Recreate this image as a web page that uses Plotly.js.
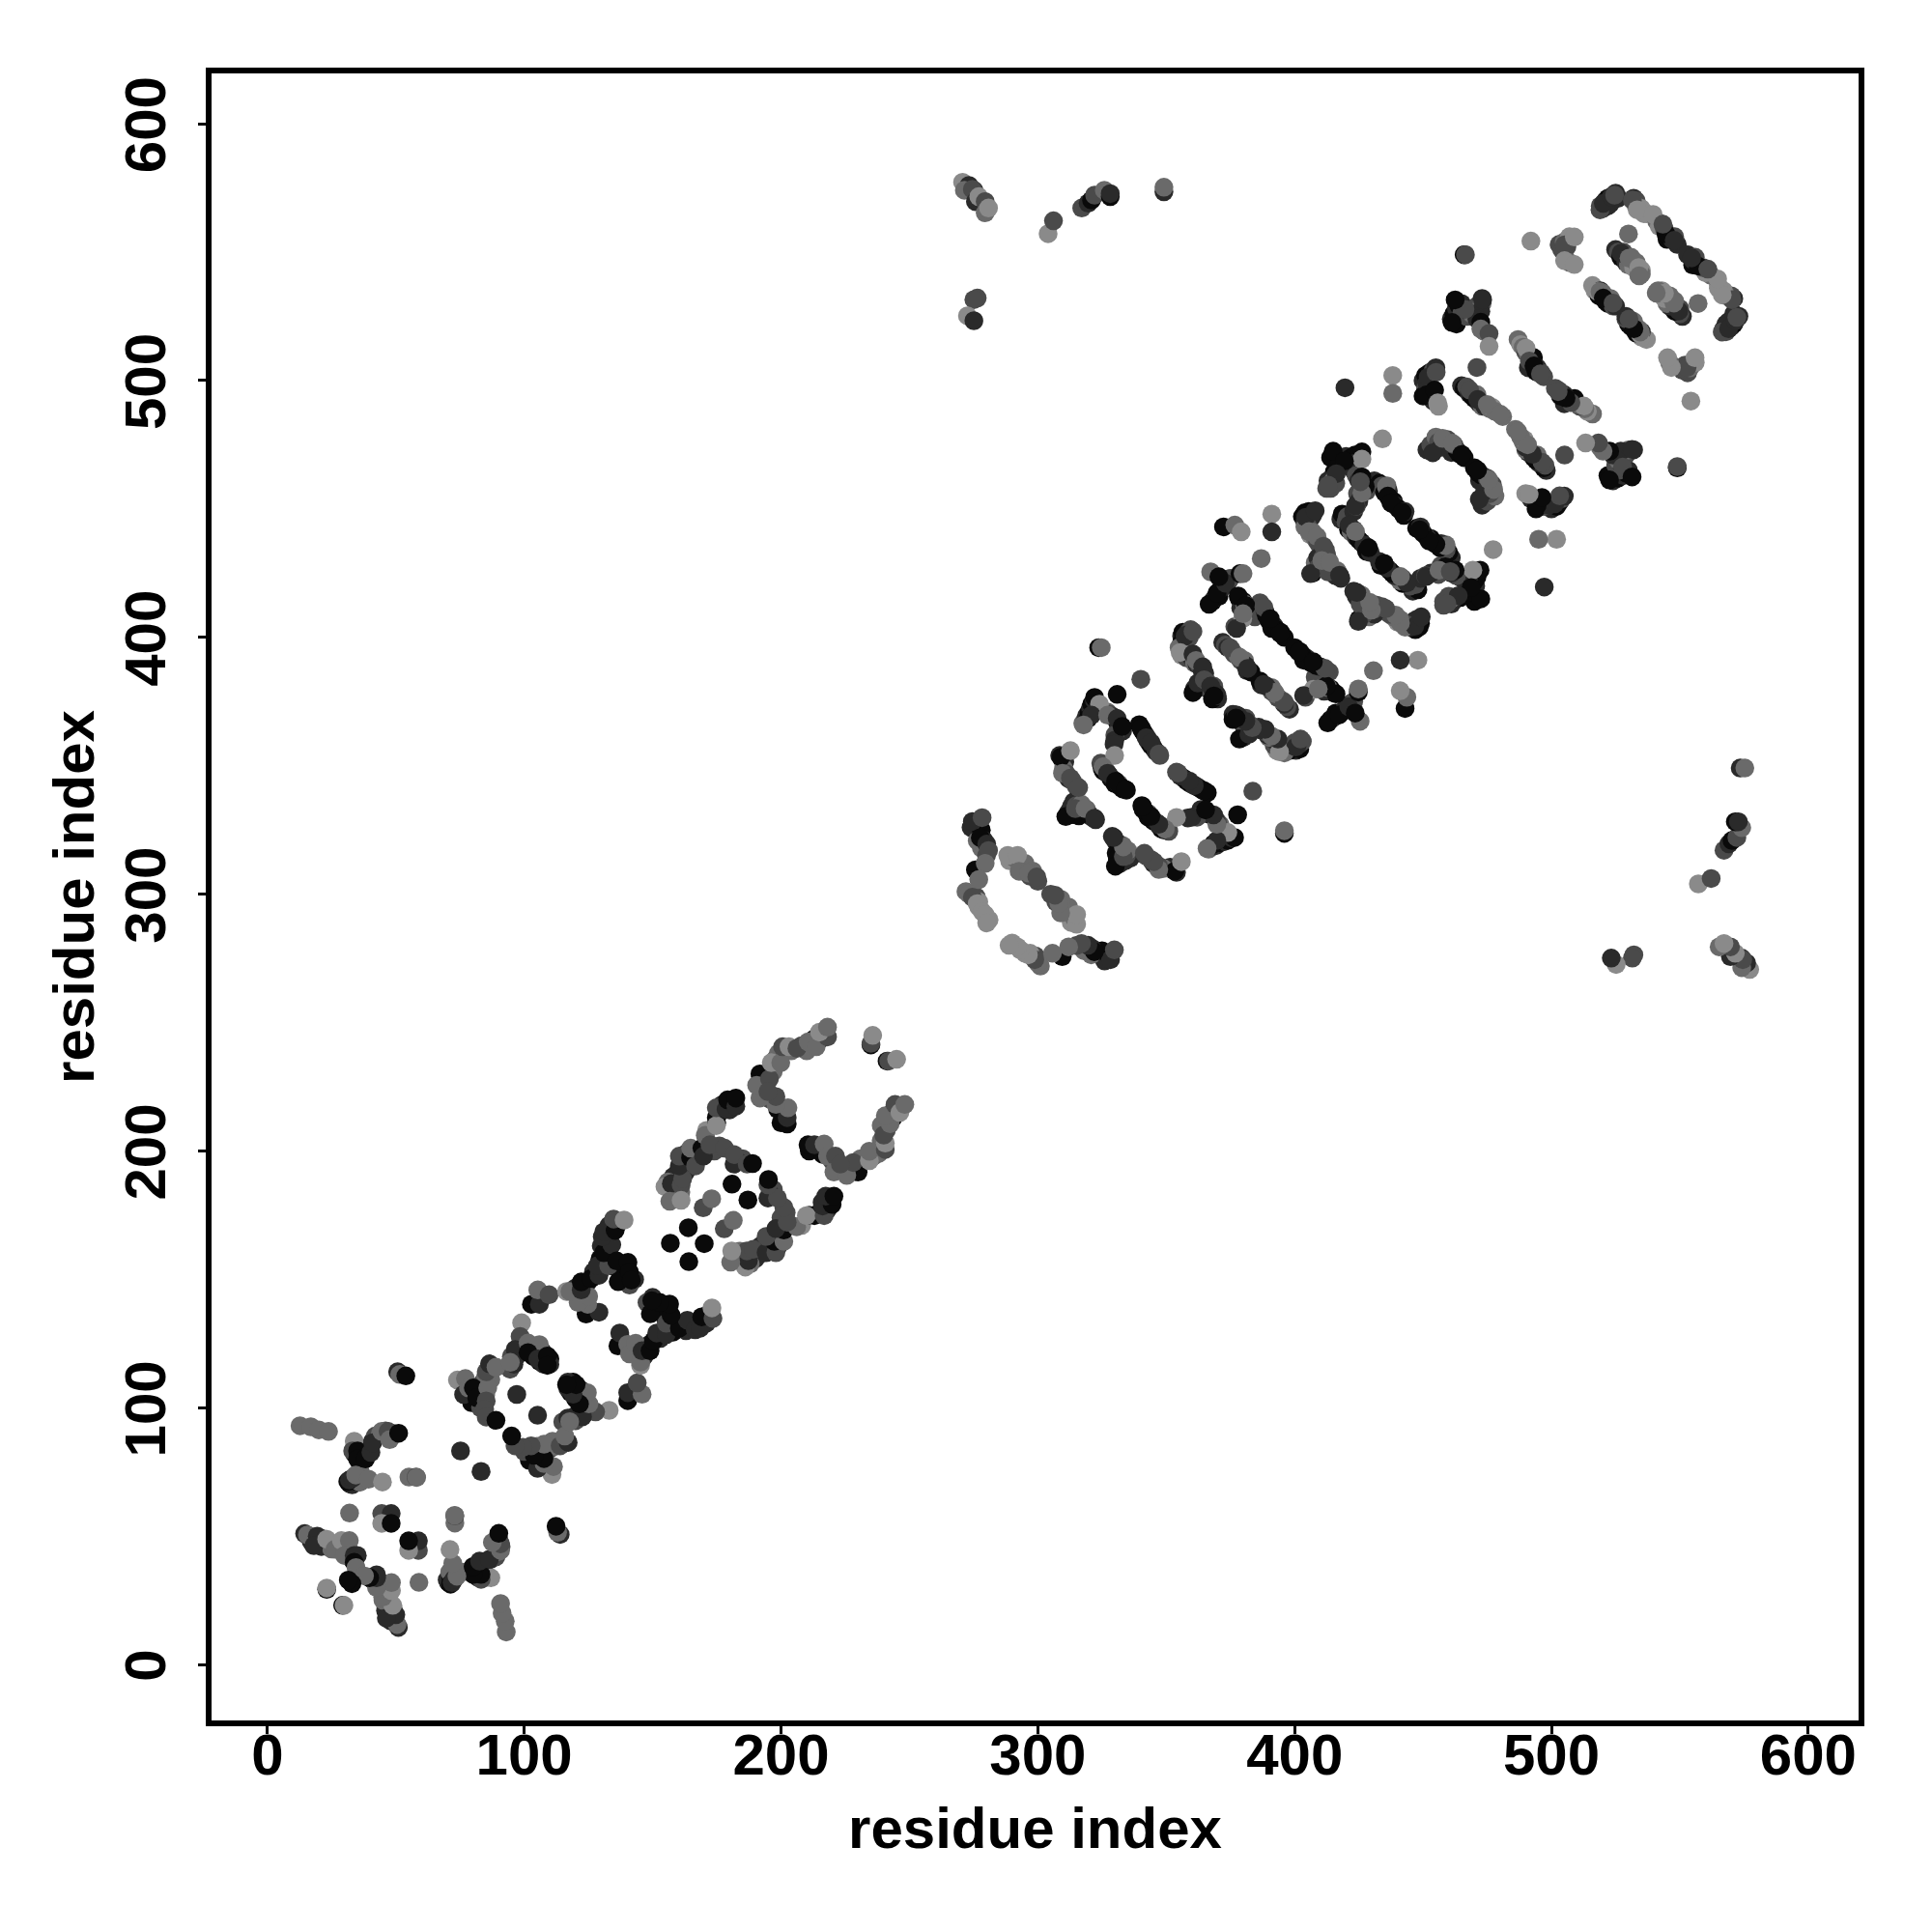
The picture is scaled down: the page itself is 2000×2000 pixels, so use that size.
<!DOCTYPE html>
<html>
<head>
<meta charset="utf-8">
<script src="https://cdn.plot.ly/plotly-3.0.1.min.js"></script>
<style>html,body{margin:0;padding:0;background:#fff}#chart{width:2000px;height:2000px}</style>
</head>
<body>
<div id="chart"></div>
<script>
// Each contact is [residue i, residue j, weight class]; the map is symmetric so each is shown at (i,j) and (j,i).
const strandsLow = [[32,70.5,0],[33,70,1],[33.5,71.5,0],[34,72,0],[36,71,3],[35,74,3],[36,76,3],[34,82,0],[36,81,0],[37,82,0],[38,84,1],[39,84,1],[40,85,1],[41,87,1],[42,89,2],[44,90,3],[46,91,2],[48,89,0],[49,90,1],[34,85,1],
 [14.5,51,1],[17,48,1],[19,47,2],[21,46,1],[25,45,3],[27,47,4],[30,45,1],[30,47,0],[31,45,0],[32,44,1],[33,41,1],[22,49,4],[24.5,47,3],
 [78,109,2],[79,106,1],[80,104.5,1],[79.5,102,0],[82,106,0],[83,103,1],[83,100,2],[85,105,3],[86,110,3],[87,111,3],[84,110,2],[85,112,3],[84.5,101,3],
 [95,120,2],[94.5,115,2],[96,117,1],[97,120,1],[98,124,2],[99,122,1],[100,123,3],[103,122,1],[103.5,120,0],[105,122,3],[107,122,1],[106,118,0],[107.5,117,1],[109,118,0],[110,119,0],[110,117,1],
 [119,146,2],[120.5,147,1],[123,147.5,0],[124.5,148.5,1],[127,153,1],[129.5,158,0],[130,163,1],[132,165,1],[133,167,0],[133,171,1],[136,171,1],[130.5,157,0],[133,158,1],[135,155,0],[138,154,0],[138.5,156,0],[139,151,0],[138,152,0],[143,150,1],[140,150,0],[124.5,139,2],[126,138,1]];
const strandsMid = [[163,199,1],[166,199,0],[168,199.5,1],[163,192,1],[162,193,0],[158,190,1],[159,189,0],[160,192,1],[156,188,3],[171,204,2],[171,208,4],[175,211,1],[176,215,0],[177,218,1],[176,216,1],[181,218,0],[180,216,1],[185,197,2],[183,196,1],[176,202,2],[174,200,2],[161,184,3],
 [200,217,3],[201,214,1],[200,211,0],[192,226,3],[193,222,3],[196,220,2],[193,227,2],[192,229,1],[194,230,3],[197,231,3],[198,236,2],[199,238,3],[204,239,3],[208,241,2],[210,239,3],[216,244,0],
 [274,326,1],[276,328,2],[278,325,0],[279,321,1],[278,318,3],[276,299,2],[277,297,4],[272,301,3],[289,313,4],[291,314,3],[294,309,3],[295,312,3],[297,307,2],[298,309,3],[300,305,2],[277,295,4],[281,290,4],[280,315,2]];
const strandsK = [[317.5,366.5,3],[318.5,368,2],[319,369.5,1],[320,371,0],[320.5,372.5,1],[321,374,0],[322,375.5,1],
 [327,371,3],[328,370,2],[329.5,369,1],[331,367,0],[331.5,365,1],[333,363.5,1],[330,362,2],[330,360,1],
 [339.5,366,0],[340.5,364,0],[341.5,362.5,0],[342.5,361,1],[343,359.5,1],[344,358,0],[345,357,0],[346,355.5,1],[347.5,354,2],
 [308.5,354,1],[309.5,352.5,0],[310.5,351.5,1],[310,349,3],[311,347,2],[312,345,1],[313.5,344,2],[315,342,2],
 [312,332,1],[313,334,1],[314,336,1],[313.5,331,1],[315,334.5,2],[316.5,332,3],[317,335,3],[318.5,331.5,2],[319,333,3],[320,331,2],[321,330,1],[316,330.5,0],[314,331,0],[322.5,329,1],
 [324.5,351,2],[325,349,1],[325.5,348,0],[326,349.5,3],[327,347,1],[328,346,2],[328.5,345,0],[329.5,344.5,1],[330,343,0],[331.5,343,3],[332,342,0],[333,341,0],[334.5,340.5,0]];
const strandsL = [[356,400.5,1],[356.5,402,0],[358.5,402,1],[359.5,403,2],[356,398,0],[358,401,1],[359,400,2],[355,396,3],[356,393,4],[358,392,2],[360,392,1],[361,390,3],[362,389.5,1],[363,389,2],[364,387,1],[365,386,1],
 [361,380,1],[363,381,0],[363.5,383,1],[365,381.5,0],[366,382.5,2],[366,380,1],[367.5,379,2],[368.5,381,2],[369.5,378,1],[370,376,1],[368,376,0],
 [372,398,1],[373,397,2],[374,396,1],[375.5,395,3],[376.5,393.5,2],[378,392.5,3],[379,391,2],[380.5,391,3],[381,389,1],[381.5,387,1],[383,386.5,0],
 [368,414,0],[369,415.5,1],[370.5,416,0],[371,418.5,0],[372,419.5,1],[374,421.5,1],[375,423,2],
 [378.5,415,0],[380,414,0],[379,411.5,1],[380.5,413,3],[382,411,1],[383,409.5,1],[384.5,408,2],
 [386.5,413.5,2],[387.5,412,2],[388.5,410,1],[389,408.5,0],[390,406.5,0],[391,405,0],[392,404.5,1],[393,403,0],[394.5,402,0],[396,400,0]];
const strandsN = [[403,447,0],[404,448.5,0],[405.5,449,0],[406,446,1],[407,447.5,1],[404,445,1],[405,443.5,2],
 [404,443,3],[406,440,4],[407,441,3],[408,438.5,3],[409,437,2],[410,435.5,2],[412,434,2],[412.5,432,2],
 [407,425,0],[408,429,3],[409,431,1],[411,431,2],[409,427,2],[411,427.5,1],[412,429,4],[414,427,3],[415,426,2],[416,424,1],[418,423,1],[416.5,426,3],[413,425.5,2],
 [418,446,1],[418.5,448,0],[420,445,2],[420.5,447,2],[421,442,0],[422,441,3],[423,442,2],[424,439,1],[425,438,0],[426,437,0],[427,436,1],[428,433.5,0],[429.5,433,1],
 [414,470,0],[414.5,462,1],[415.5,464.5,0],[416.5,466,0],[417.5,467.5,0],[413,461,1],[412.5,458,2],[414,458,2],[415,461,3],[416,460,2],[420,470.5,1],[422,470,0],[423.5,471,0],[425,470.5,0],[424,468,1],
 [423,465,1],[424,463,2],[425,461,1],[426,459,3],[424.5,456,2],[425,453,1],[423,449,1],[424,451,2],[428,460,0],[428,457,2],
 [431,461,1],[433,460,0],[434,459,2],[436,459,3],[435,456.5,0],[436.5,457,1],[437,454,0],[438.5,453,0],[439,451.5,1],[440.5,450,0],[442.5,447.5,0],[443,449,1]];
const strandsO = [[450,500,1],[451,502,0],[452.5,503,0],[454,504,2],[451,497,2],[452,497,0],[453,495,0],[454,492,1],[450,494,0],[456,490,4],[451.5,499,1],[455,505,1],
 [451.5,473,1],[453,475,2],[455,478,3],[456,476,2],[458,476,3],[459.5,477,2],[460,474,2],[461,472,1],[463,473,0],[464,471.5,0],[466,470,0],[462,475,2],[457,474,1],
 [465,498,1],[466,497,0],[467,497.5,2],[468,495,1],[469,494,0],[470,493,0],[471,494.5,3],[472,491,1],[473,490,3],[474,490,1],[476,489,3],[477,489.5,4],[478,488,3],[481,486,3],
 [461,524,1],[462,526,0],[463,528,1],[464,529,0],[465,530,1],[463,522,0],[465,526,2],[467,525,2],[468,527,0],[469,526,3],[471,529,2],[473,532,1],[473,530,3],[472.5,527,1],[471,524,1],[474,519,3]];
const strandsP = [[487,516,3],[488,514,4],[489,513,3],[490,511,2],[491,510,3],[491,505,1],[492,508,3],[493,507,1],[494,503.5,0],[493,509,0],[494.5,505,1],[496,503,2],[497,501.5,2],
 [519,568,2],[520,567,1],[521,570,1],[522,568,1],[522,571,0],[523,569,1],[525,573,1],[526,571,1],
 [532,571,1],[533,570,2],[533,568,3],[535,567,4],[536,565,4],[537,565,4],[541,562,3],[542,560,4],[544,559,2],[545,555,0],[546,556,0],[547,555,1],[549,553,1],[548,556,2],
 [525,551,1],[526,550,2],[527,548,0],[528,550,2],[529,546,1],[530,545,3],[531,548,3],[532,544,4],[533,546,3],[534,541,3],[535,543,4],[535,541.5,3],
 [516,537,4],[517,535,4],[518.5,533,0],[519,535,1],[520,534,3],[521,531,0],[522,530,0],[523,532,3],[524,529,2],[525,529,1],
 [503,553,2],[504,551,2],[505,554,3],[506,552,2],[507,556,4],[507,546,3]];
const contactsA = [[12.7,93,3],[16.9,92.6,3],[20,91.4,3],[23.8,90.8,3],
 [33.8,87,4],[33.2,83.2,2],[35.1,83.2,0],[35.1,80.1,0],[38.2,80.1,0],[40.3,82.6,1],[41,86.4,1],
 [44.5,90.8,3],[47,90.8,2],[47.6,87.6,3],[51.1,90.1,0],[31.3,71.3,0],[31.9,71.9,1],[33.2,72.6,1],
 [34.4,73.8,3],[39.4,72.2,3],[44.8,71.1,4],[55.1,73,3],[57.9,73,2]];
const contactsB = [[15.6,50.5,3],[19.4,50,1],[18.1,46.3,1],[23.1,48.8,4],[26.3,44.9,3],[28.8,48.3,4],[31.9,48.3,3],
 [30,42.5,3],[33.8,42.5,1],[35,42.5,1],[33.8,39.8,0],[34.5,37.8,3],[32.9,31.5,0]];
const contactsC = [[23.1,29.3,0],[23.1,29.8,4],[32.0,59,3],[44.5,58.8,2],[48.2,58.8,1],[44.5,55,4],[48.2,55,0],
 [50.7,114,1],[51.5,113,3],[53.9,112.4,0],[75.2,83.2,1],[97.1,105.2,1]];
const contactsD = [[72.9,58.1,3],[74,110.8,4],[77.1,111.4,3],[76.4,105.2,1],[78.3,107.7,3],[80.2,107.7,0],[81.5,103.9,0],
 [85.8,107.7,3],[85.2,114,2],[86.5,117.1,1],[89,115.8,3],[85.2,102.7,2],[84.6,99.5,2],[85.2,96.4,2],[89,95.1,0]];
const contactsE = [[99,133.1,4],[98.4,127.8,2],[96.5,122.7,1],[94.6,117.7,3],[101.5,125.2,3],[105.9,124.6,3],
 [101.5,121.5,0],[105.3,119,1],[109,120.2,0],[109,116.5,0],[102.8,140.3,0],[105.9,140.3,1],[105.3,145.9,3],[109.7,144,2]];
const contactsF = [[124.1,136.5,0],[129.1,137.2,1],[124.7,140.3,3],[121,141,3],[125.1,143.4,3],[116.5,145.3,4],[117.8,145.3,3],
 [122.2,145.9,1],[122.2,149,0],[126,150.3,0],[129.1,151.6,1],[128.5,155.3,1],[132.9,155.3,2],[131,160.4,0],
 [134.1,163.5,1],[130.4,166.6,1],[131,168.5,1],[135.4,169.1,0],[134.8,173.5,2],[138.9,173.1,4],[136,157.2,0],
 [140.4,156.6,0],[141,147.8,2],[136.6,149.1,0],[141,152.8,0],[141.7,149.7,0]];
const contactsG = [[163.9,170.1,0],[156.9,164.1,0],[169.7,177.9,2],[173,181.4,3],[180.9,187.1,0],
 [154.8,186.1,4],[157.3,187.3,1],[161.1,186.7,2],[156.7,180.4,3],[161.1,180.8,4],[161.7,189.2,2],[160.4,194.2,1],
 [160.4,198,2],[164.8,197.4,0],[164.8,201.1,3],[166.7,194.2,2],[169.2,201.1,0],[169.8,198,1],[170.5,206.1,3],
 [172.3,202.4,2],[174.8,213,0],[174.8,209.9,4],[174.8,216.8,2],[178.6,216.2,1],[179.2,219.9,0],[182.4,217.4,1],
 [182.4,220.6,0],[178,201.1,2],[181.7,194.9,1],[181.7,198.6,2],[186.8,194.9,2],[188.9,195.1,0]];
const contactsH = [[198.7,216.2,0],[202.4,210.5,0],[202.4,213,1],[202.7,216.8,3],[198,218.1,3],[198,221.2,2],[191.8,220.6,3],
 [191.8,230,0],[190.5,225.6,3],[195.5,228.1,2],[194.9,223.1,2],[196.2,234.4,4],[199.9,234.4,3],[200.6,240.6,2],
 [203.1,240.6,4],[206.2,240,2],[213.1,243.8,0],[210.6,242.5,3],[213.7,240.6,3],[218.1,244.4,2],[215,246.3,4],[218.1,248.2,3],
 [235,241.3,0],[235,241.9,2],[235.7,245,4]];
const contactsI = [[270.7,577.2,4],[275.1,574.1,1],[273.2,576,1],[271.4,574.1,3],[274.5,574.5,2],[275.7,569.7,1],[277,571.6,4],
 [279.5,569.7,2],[279.5,565.3,3],[280.8,567.2,4],[304,557.2,4],[306.1,562.2,2],[317.1,567.2,2],[319.6,569.1,1],[320.9,570.3,0],
 [322.1,572.2,2],[325.9,574.1,3],[328.2,571.6,0],[328.2,572.8,1],[349.1,573.5,1],[349.1,575.3,3],
 [276.4,532.1,2],[275.1,531.5,2],[272.6,525.2,4],[275.1,523.3,1]];
const contactsJ = [[274.5,328.3,1],[278.3,329.8,2],[276.4,320.8,3],[277.6,322,0],[280.1,319.5,1],[280.8,317,2],[275.7,309.5,0],
 [279.5,312,3],[277,305.7,3],[273.2,300,3],[274.5,298.8,2],[276.4,296.3,4],[278.3,293.2,4],[279.5,292,4],[280.1,288.8,4],
 [288.3,315.1,4],[292.1,315.1,4],[292.7,308.9,3],[296.4,308.2,3],[299.6,306.7,2]];
const contactsK = [[323.7,396,0],[324.7,396,3],[340.1,383.7,2],[322.1,376.6,0],[330.9,377.8,0],[324,374,4],[319.6,368.4,0],
 [320.9,369.7,1],[317.8,365.9,3],[327.2,369.7,3],[330.9,368.4,1],[332.8,365.3,0],[329.7,358.4,1],[329.9,354,4],
 [340.3,364.7,0],[342.2,360.9,1],[344.1,359,1],[347.2,354.6,2],[309,353.4,0],[312.7,355.9,4],[309.6,347.1,3],[312.7,345.2,2],
 [315.9,341.5,2],[310.9,330.2,0],[314.6,333.3,2],[318.4,333.3,3],[322.1,329.6,1],[325.3,349.6,3],[327.2,347.1,1],
 [330.3,344,0],[334.1,340.8,0]];
const contactsL = [[357.3,400.4,1],[360.4,402.3,2],[355.4,394.1,4],[360.4,393.5,1],[361.6,391,3],[364.2,388.5,1],[360.4,378.5,0],
 [362.3,382.2,1],[364.8,383.5,2],[367.3,381,1],[369.8,377.2,1],[368.6,377.2,0],[374.8,396,2],[378.6,392.2,3],[381.7,387.9,1],
 [376.7,404.2,2],[379.8,407.3,4],[391.1,403.5,0],[394.3,401.6,0],[377.4,403.5,1]];
const contactsM = [[366.7,412.9,0],[369.8,417.3,0],[373,421.1,1],[367.3,425.5,3],[370.5,423.6,0],[378.7,424.8,0],[379.9,424.8,3],
 [378,416.1,0],[381.1,412.3,0],[379.9,409.2,3],[388,411.7,2],[390.5,407.3,0],[387,430.7,3],[372.3,443,0],[376.7,443.7,3],
 [379.2,441.1,4],[391.1,448,4],[391.1,441.1,1]];
const contactsN = [[404.3,446.8,1],[408,449.3,1],[405.6,441.2,3],[408.7,439.3,3],[411.2,435.5,2],[406.2,424.8,1],[410.6,429.9,3],
 [413.7,429.2,3],[417.5,424.2,1],[421.2,443.7,1],[423.7,441.2,3],[428.8,434.9,0],[415,472.5,0],[426.2,472.2,0],[426.2,469.4,4],
 [419.4,468.7,0],[416.2,463.7,1],[413.1,459.3,2],[423.7,451.2,1],[426.2,462.5,0],[427.5,458.7,0],[426.2,456.2,3],[425.6,460.6,2],
 [435.7,458.7,3],[436.3,455,0],[437.5,452.4,0],[441.9,448.7,0],[434.2,477.3,4],[419.6,497.2,1],[438.2,502,4],[438.2,495,3]];
const contactsO = [[452,501.3,1],[455.1,503.2,2],[451.3,494.4,0],[454.5,496.3,0],[455.7,491.3,4],[453.8,471.9,1],[457.6,477.5,3],
 [461.4,475.6,3],[465.1,471.2,0],[468.2,496.3,2],[471.3,492.6,1],[475,490.7,3],[480.1,486.9,3],[471,505.1,2],
 [466.3,527.7,2],[462.5,531.4,0],[461.3,522.6,0],[473.2,531.4,1],[472.5,522.7,0],[472.5,520.1,3],[475.7,518.3,2],[475.7,513.3,4],
 [466,549,0],[466.5,549,2]];
const contactsP = [[490.1,512.6,4],[491.4,507.6,2],[493.2,505.7,0],[495.7,502.6,2],[492,554.3,4],[505.1,552.8,2],[508.9,555.9,4],
 [505.1,546.7,4],[508.9,545.2,4],[518.9,566.5,2],[520.2,569,1],[523.3,571.6,1],[524.6,572.2,2],[531.5,570.3,2],[533.4,566.5,4],
 [539.6,564.7,4],[544.6,557.1,0],[543.4,560.9,2],[547.8,554.6,1],[530,557.1,3],[527.1,549.6,1],[530.2,547.7,3],[534,544,4],
 [534.2,540.8,3],[518,534.6,4],[518.9,534.6,3],[520.2,532.1,0],[524,530.2,2]];
const allContacts = [strandsLow, strandsMid, strandsK, strandsL, strandsN, strandsO, strandsP,
  contactsA, contactsB, contactsC, contactsD, contactsE, contactsF, contactsG, contactsH,
  contactsI, contactsJ, contactsK, contactsL, contactsM, contactsN, contactsO, contactsP];
const tickValues = [0, 100, 200, 300, 400, 500, 600];
const axisLabel = 'residue index';

const xs = [], ys = [], ws = [];
allContacts.forEach(list => list.forEach(c => {
  xs.push(c[0]); ys.push(c[1]); ws.push(c[2]);
  xs.push(c[1]); ys.push(c[0]); ws.push(c[2]);
}));

const font = {family: '"Liberation Sans", Arial, sans-serif', size: 60, color: '#000', weight: 700};
function axis(extra) {
  return Object.assign({
    tickmode: 'array', tickvals: tickValues, ticktext: tickValues.map(v => '<b>' + v + '</b>'),
    showgrid: false, zeroline: false, showline: true, mirror: true, linewidth: 6, linecolor: '#000',
    ticks: 'outside', ticklen: 8, tickwidth: 3, tickcolor: '#000', tickfont: font
  }, extra);
}
Plotly.newPlot('chart', [{
  type: 'scatter', mode: 'markers', x: xs, y: ys, cliponaxis: true,
  marker: {size: 19.5, color: ws, cmin: 0, cmax: 4, colorscale: [[0, '#0a0a0a'], [1, '#8a8a8a']], showscale: false, line: {width: 0}}
}], {
  width: 2000, height: 2000, paper_bgcolor: '#fff', plot_bgcolor: '#fff', showlegend: false,
  margin: {l: 219, r: 76, t: 76, b: 219, pad: 0},
  xaxis: axis({range: [-21.75, 619.6], ticklabelstandoff: -30, title: {text: '<b>' + axisLabel + '</b>', font: font, standoff: 24}, automargin: false}),
  yaxis: axis({range: [-21.75, 619.6], tickangle: -90, ticklabelstandoff: 10, ticklabelshift: 10, title: {text: '<b>' + axisLabel + '</b>', font: font, standoff: 2}, automargin: false})
}, {displayModeBar: false, staticPlot: true});
</script>
</body>
</html>
